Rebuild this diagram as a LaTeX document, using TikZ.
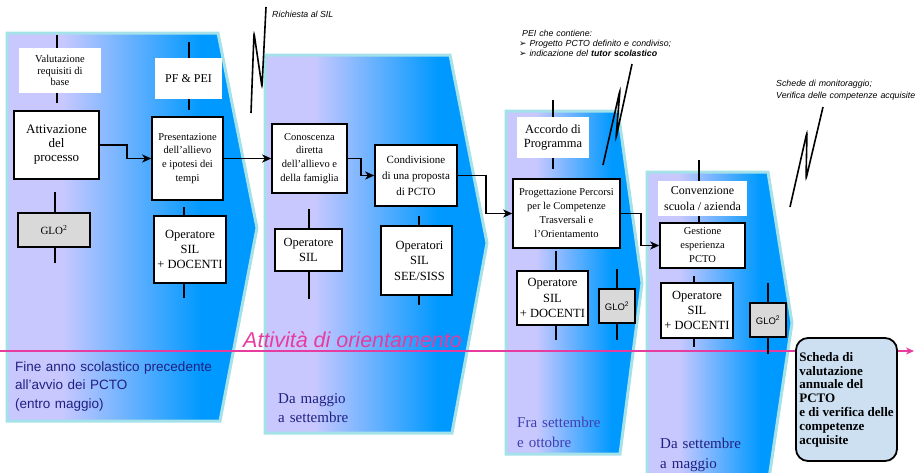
\documentclass[tikz,border=0pt]{standalone}
\usepackage{fontspec}
\setmainfont{Liberation Serif}
\setsansfont{Liberation Sans}
\newfontfamily\dejavu{DejaVu Sans}
\usetikzlibrary{arrows.meta}
\definecolor{lav}{RGB}{200,200,255}
\definecolor{blu}{RGB}{0,153,255}
\definecolor{halo}{RGB}{165,225,232}
\definecolor{pinkc}{RGB}{230,60,160}
\definecolor{navy}{RGB}{32,32,128}
\definecolor{navyl}{RGB}{64,64,176}
\definecolor{finfill}{RGB}{204,224,242}
\definecolor{greyb}{RGB}{217,217,217}
\pgfdeclarehorizontalshading{panelshade}{100bp}{color(0bp)=(lav); color(36bp)=(lav); color(64bp)=(blu); color(100bp)=(blu)}
\newcommand{\fs}[2]{\fontsize{#1}{#2}\selectfont}
\begin{document}
\begin{tikzpicture}[x=1pt,y=-1pt,
  panel/.style={shade, shading=panelshade, draw=halo, line width=3pt, line join=miter},
  pbox/.style={draw, line width=1.5pt, fill=white, inner sep=0pt, align=center},
  wbox/.style={fill=white, inner sep=0pt, align=center},
  gbox/.style={draw, line width=1.5pt, fill=greyb, inner sep=0pt, align=center},
  conn/.style={line width=1.6pt, -{Stealth[length=9pt,width=8pt,inset=2.5pt]}},
  port/.style={line width=1.6pt},
  squig/.style={line width=1.6pt, rounded corners=2.5pt},
  callout/.style={font=\sffamily\itshape\fs{8.8}{10.2}, anchor=base west, inner sep=0pt, align=left},
  period/.style={anchor=base west, inner sep=0pt, align=left},
  finbox/.style={draw, line width=1.8pt, fill=finfill, rounded corners=12pt, inner sep=0pt, align=left, minimum width=101pt, minimum height=123pt, font=\bfseries\fs{13}{13.8}}
]
\useasboundingbox (0,0) rectangle (918,472);
\clip (0,0) rectangle (918,472);

% panels
\path[panel] (7,33) -- (218,33) -- (257,228) -- (220,421) -- (7,421) -- cycle;
\path[panel] (265,55) -- (450,55) -- (487,243) -- (452,433) -- (265,433) -- cycle;
\path[panel] (506,111) -- (618,111) -- (642,283) -- (620,454) -- (506,454) -- cycle;
\path[panel] (647,172) -- (768,172) -- (792,323) -- (768,485) -- (647,485) -- cycle;

% orientation line
\coordinate (pinkstart) at (0,351);
\coordinate (pinkend) at (914,351);
\draw[pinkc, line width=2pt, -{Stealth[length=8pt,width=7pt]}] (pinkstart) -- (pinkend);
\node[font=\sffamily\itshape\fs{21.5}{24}, text=pinkc, anchor=base west, inner sep=0pt] (orient) at (243,347) {Attività di orientamento};

% period labels
\node[period, text width=210pt, font=\sffamily\fs{13.5}{18.7}, text=navy] (p1) at (15,371) {Fine anno scolastico precedente\\all’avvio dei PCTO\\(entro maggio)};
\node[period, text width=120pt, font=\fs{15}{19}, text=navy] (p2) at (278,403) {Da maggio\\a settembre};
\node[period, text width=110pt, font=\fs{15}{20}, text=navyl] (p3) at (517,427) {Fra settembre\\e ottobre};
\node[period, text width=110pt, font=\fs{15}{20}, text=navy] (p4) at (660,448) {Da settembre\\a maggio};

% panel 1 boxes
\node[wbox, minimum width=82pt, minimum height=45pt, font=\fs{10.5}{11.7}] (val) at (60,70.5) {Valutazione\\requisiti di\\base};
\node[pbox, minimum width=85pt, minimum height=68pt, font=\fs{13}{14}] (att) at (56.5,145) {Attivazione\\del\\processo};
\node[gbox, minimum width=72pt, minimum height=34pt, font=\fs{11}{13}] (glo1) at (54,230) {GLO\textsuperscript{2}};
\node[wbox, minimum width=67pt, minimum height=41pt, font=\fs{12}{13}] (pf) at (188.5,78.5) {PF \& PEI};
\node[pbox, minimum width=71pt, minimum height=83pt, font=\fs{10.5}{13.8}] (pres) at (187.5,158.5) {Presentazione\\dell’allievo\\e ipotesi dei\\tempi};
\node[pbox, minimum width=72pt, minimum height=67pt, font=\fs{12.5}{15.3}] (op1) at (190,249.5) {Operatore\\SIL\\+ DOCENTI};

% panel 2 boxes
\node[pbox, minimum width=75pt, minimum height=69pt, font=\fs{10.5}{13.7}] (con) at (309.5,158.5) {Conoscenza\\diretta\\dell’allievo e\\della famiglia};
\node[pbox, minimum width=82pt, minimum height=61pt, font=\fs{11}{16}] (cond) at (416,175.5) {Condivisione\\di una proposta\\di PCTO};
\node[pbox, minimum width=67pt, minimum height=42pt, font=\fs{12.5}{15}] (op2) at (308.5,250) {Operatore\\SIL};
\node[pbox, minimum width=71pt, minimum height=69pt, font=\fs{12.5}{15.5}] (ops) at (416.5,260.5) {\hspace*{6pt}Operatori\\\hspace*{6pt}SIL\\\hspace*{6pt}SEE/SISS};

% panel 3 boxes
\node[wbox, minimum width=72pt, minimum height=41pt, font=\fs{12.5}{14.7}] (acc) at (553,137.5) {Accordo di\\Programma};
\node[pbox, minimum width=107pt, minimum height=69pt, font=\fs{10.5}{14}] (prog) at (566.5,213.5) {Progettazione Percorsi\\per le Competenze\\Trasversali e\\l’Orientamento};
\node[pbox, minimum width=71pt, minimum height=54pt, font=\fs{12.5}{15.3}] (op3) at (552.5,298) {Operatore\\SIL\\+ DOCENTI};
\node[gbox, minimum width=36pt, minimum height=34pt, font=\sffamily\fs{9.5}{11}] (glo3) at (617,306) {GLO\textsuperscript{2}};

% panel 4 boxes
\node[wbox, minimum width=89pt, minimum height=35pt, font=\fs{12}{16}] (conv) at (702.5,198.5) {Convenzione\\scuola / azienda};
\node[pbox, minimum width=85pt, minimum height=45pt, font=\fs{10.5}{14}] (gest) at (702.5,245.5) {Gestione\\esperienza\\PCTO};
\node[pbox, minimum width=72pt, minimum height=55pt, font=\fs{12.5}{15.3}] (op4) at (697,310.5) {Operatore\\SIL\\+ DOCENTI};
\node[gbox, minimum width=36pt, minimum height=34pt, font=\sffamily\fs{9.5}{11}] (glo4) at (768,320) {GLO\textsuperscript{2}};

% final box
\node[finbox] (fin) at (846.5,399.5) {Scheda di\\valutazione\\annuale del\\PCTO\\e di verifica delle\\competenze\\acquisite};

% ports (short vertical lines)
\draw[port] ([xshift=-3pt]val.north) -- ++(0,-13) ([xshift=-3pt]val.south) -- ++(0,10);
\draw[port] ([xshift=1pt]glo1.north) -- ++(0,-20) ([xshift=1pt]glo1.south) -- ++(0,15);
\draw[port] ([xshift=0.5pt]pf.north) -- ++(0,-16) ([xshift=0.5pt]pf.south) -- ++(0,11);
\draw[port] ([xshift=-6pt]op1.north) -- ++(0,-8) ([xshift=-6pt]op1.south) -- ++(0,14);
\draw[port] ([xshift=0.5pt]op2.north) -- ++(0,-19) ([xshift=0.5pt]op2.south) -- ++(0,27);
\draw[port] ([xshift=2.5pt]ops.north) -- ++(0,-9) ([xshift=2.5pt]ops.south) -- ++(0,9);
\draw[port] (acc.north) -- ++(0,-17) (acc.south) -- ++(0,11);
\draw[port] ([xshift=3.5pt]op3.north) -- ++(0,-19) ([xshift=3.5pt]op3.south) -- ++(0,14);
\draw[port] (glo3.north) -- ++(0,-19) (glo3.south) -- ++(0,16);
\draw[port] ([xshift=-3.5pt]conv.north) -- ++(0,-21) ([xshift=-3.5pt]conv.south) -- ([xshift=-3.5pt]gest.north);
\draw[port] ([xshift=-3pt]op4.north) -- ++(0,-6) ([xshift=-3pt]op4.south) -- ++(0,8);
\draw[port] (glo4.north) -- ++(0,-19) (glo4.south) -- ++(0,16);

% connectors
\draw[conn] (att.east) -- ++(27,0) |- (pres.west);
\draw[conn] (pres.east) -- (con.west);
\draw[conn] (con.east) -- ++(13,0) |- (cond.west);
\draw[conn] (cond.east) -- ++(28,0) |- (prog.west);
\draw[conn] (prog.east) -- ++(20,0) |- (gest.west);

% callouts
\node[callout] (ric) at (272,17) {Richiesta al SIL};
\node[callout, text width=170pt] (pei) at (519,36) {\hspace*{3pt}PEI che contiene:\\{\dejavu\upshape ➢} Progetto PCTO definito e condiviso;\\{\dejavu\upshape ➢} indicazione del \textbf{tutor scolastico}};
\node[callout, text width=150pt, font=\sffamily\itshape\fs{8.8}{12}] (sch) at (776,86) {Schede di monitoraggio;\\Verifica delle competenze acquisite};
\draw[squig] (251,113) -- (254,33) -- (262,87) -- (266,7);
\draw[squig] (632,64) -- (616,138) -- (620,90) -- (603,165);
\draw[squig] (823,107) -- (806,179) -- (807,132) -- (790,207);
\end{tikzpicture}
\end{document}
